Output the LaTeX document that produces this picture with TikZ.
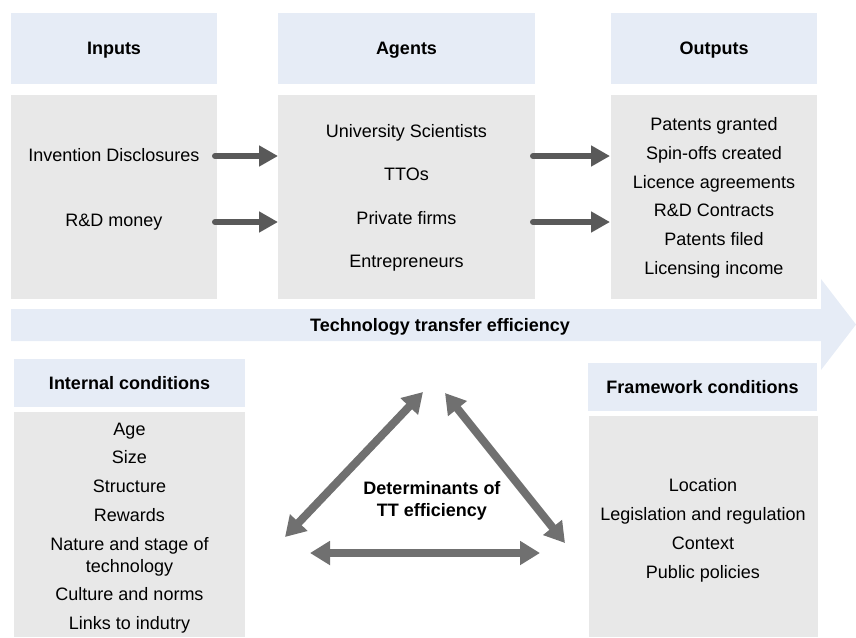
\documentclass[tikz,border=0pt]{standalone}
\usepackage{fontspec}
\setmainfont{Liberation Sans}
\usetikzlibrary{arrows.meta}
\newdimen\px
\px=0.75pt
\definecolor{hdrblue}{RGB}{230,236,246}
\definecolor{boxgray}{RGB}{232,232,232}
\definecolor{arrdark}{RGB}{89,89,89}
\definecolor{arrmid}{RGB}{112,112,112}
\newcommand{\txtsize}{\fontsize{13.5}{16.5}\selectfont}
\tikzset{
  hdr/.style={fill=hdrblue, inner sep=0pt, font=\txtsize\bfseries, text height=9.7pt, text depth=0pt},
  panel/.style={fill=boxgray, inner sep=0pt},
  item/.style={inner sep=0pt, text height=9.7pt, text depth=0pt},
  flow/.style={draw=arrdark, line width=4.5pt, line cap=round, -{Triangle[length=14.25pt,width=15pt]}},
  link/.style={draw=arrmid, line width=6pt, {Triangle[length=15pt,width=17.25pt]}-{Triangle[length=15pt,width=17.25pt]}}
}
\begin{document}
\begin{tikzpicture}[x=0.75pt, y=-0.75pt, font=\txtsize]
\useasboundingbox (0,0) rectangle (856,637);
% headers
\node[hdr, minimum width=206\px, minimum height=71\px] (inhdr) at (114,48.5) {Inputs};
\node[hdr, minimum width=257\px, minimum height=71\px] (aghdr) at (406.5,48.5) {Agents};
\node[hdr, minimum width=206\px, minimum height=71\px] (outhdr) at (714,48.5) {Outputs};
% panels
\node[panel, minimum width=206\px, minimum height=204\px] (inbox) at (114,197) {};
\node[panel, minimum width=257\px, minimum height=204\px] (agbox) at (406.5,197) {};
\node[panel, minimum width=206\px, minimum height=204\px] (outbox) at (714,197) {};
% inputs
\node[item] (in1) at (114,155) {Invention Disclosures};
\node[item] (in2) at (114,220) {R\&D money};
% agents
\foreach \t [count=\i] in {University Scientists, TTOs, Private firms, Entrepreneurs}
  \node[item] (ag\i) at (406.5,{131+43.3*(\i-1)}) {\t};
% outputs
\foreach \t [count=\i] in {Patents granted, Spin-offs created, Licence agreements, R\&D Contracts, Patents filed, Licensing income}
  \node[item] (out\i) at (714,{124+28.8*(\i-1)}) {\t};
% flow arrows
\coordinate (f1a) at (215,156);
\coordinate (f1b) at (278,156);
\coordinate (f2a) at (215,222);
\coordinate (f2b) at (278,222);
\coordinate (f3a) at (533,156);
\coordinate (f3b) at (610,156);
\coordinate (f4a) at (533,222);
\coordinate (f4b) at (610,222);
\draw[flow] (f1a) -- (f1b);
\draw[flow] (f2a) -- (f2b);
\draw[flow] (f3a) -- (f3b);
\draw[flow] (f4a) -- (f4b);
% big arrow
\fill[hdrblue] (11,309) -- (821,309) -- (821,279) -- (856,324.5) -- (821,370) -- (821,341) -- (11,341) -- cycle;
\node[item, font=\txtsize\bfseries] (tte) at (440,325) {Technology transfer efficiency};
% internal conditions
\node[hdr, minimum width=231\px, minimum height=48\px] (inthdr) at (129.5,383) {Internal conditions};
\node[panel, minimum width=231\px, minimum height=225\px] (intbox) at (129.5,524.5) {};
\foreach \t/\y [count=\i] in {Age/429, Size/457, Structure/486, Rewards/515, Nature and stage of/544, technology/566, Culture and norms/594, Links to indutry/623}
  \node[item] (int\i) at (129.5,\y) {\t};
% framework conditions
\node[hdr, minimum width=229\px, minimum height=48\px] (fwhdr) at (702.5,387) {Framework conditions};
\node[panel, minimum width=229\px, minimum height=221\px] (fwbox) at (703,526.5) {};
\foreach \t [count=\i] in {Location, Legislation and regulation, Context, Public policies}
  \node[item] (fw\i) at (703,{485+29*(\i-1)}) {\t};
% determinants
\node[align=center, font=\txtsize\bfseries, inner sep=0pt] (det) at (432,501) {Determinants of\\TT efficiency};
\coordinate (tl) at (285,537);
\coordinate (tt1) at (423,392);
\coordinate (tt2) at (445,393);
\coordinate (tr) at (565,543);
\coordinate (bl) at (310,553);
\coordinate (br) at (540,553);
\draw[link] (tl) -- (tt1);
\draw[link] (tt2) -- (tr);
\draw[link] (bl) -- (br);
\end{tikzpicture}
\end{document}
